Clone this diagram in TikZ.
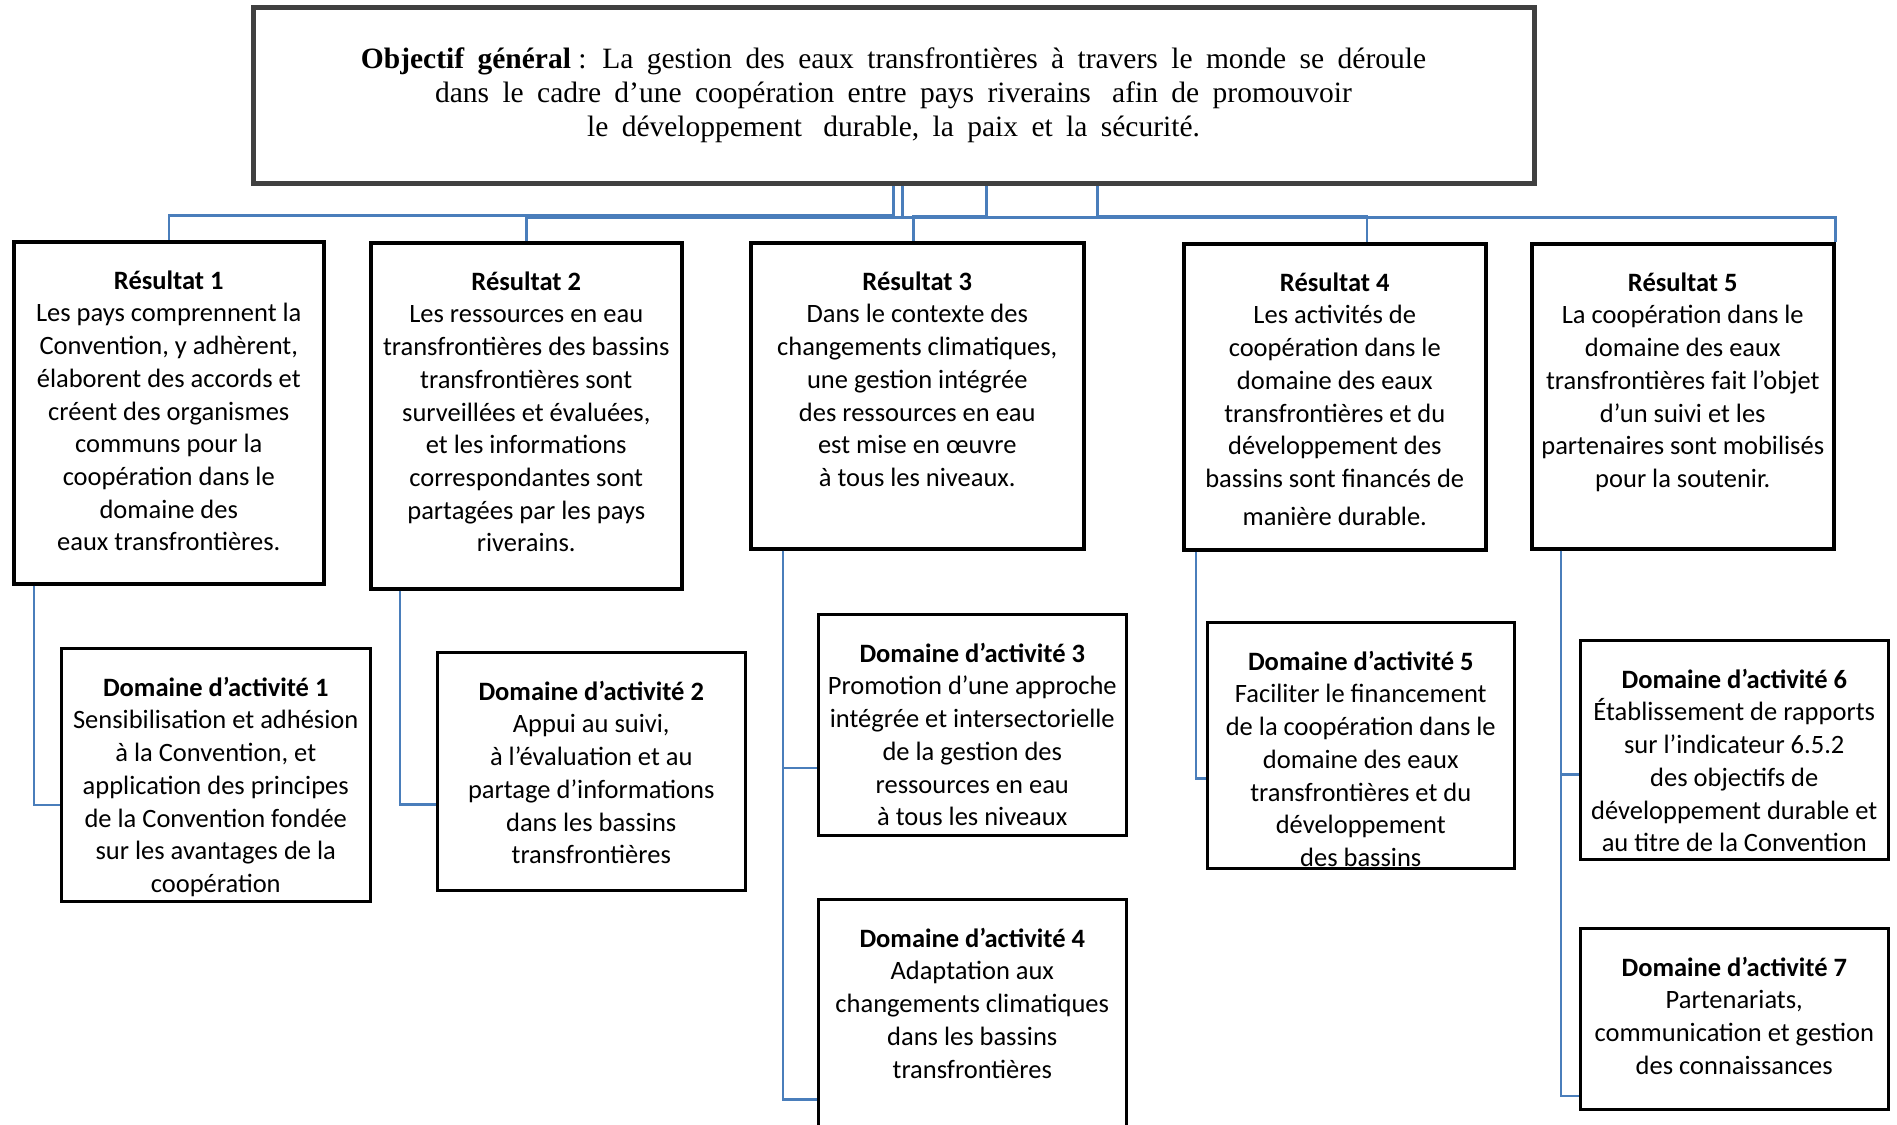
\documentclass[tikz,border=0pt]{standalone}
\usepackage{fontspec}
\setmainfont{Liberation Serif}[BoldFont={Liberation Serif Bold}]
\newfontfamily\carlito{Carlito}
\definecolor{conncol}{HTML}{4A7EBB}
\definecolor{objcol}{HTML}{404040}
\begin{document}
\begin{tikzpicture}[x=1pt,y=-1pt,
  objbox/.style={draw=objcol, line width=5pt, fill=white, inner sep=0, align=center,
    font={\fontsize{29.5}{34}\selectfont\spaceskip=13.4pt\relax}},
  rbox/.style={draw=black, line width=3.5pt, fill=white, anchor=north west, inner sep=0},
  dbox/.style={draw=black, line width=2.5pt, fill=white, anchor=north west, inner sep=0},
  btxt/.style={font=\carlito\fontsize{26.5}{32.7}\selectfont, align=center, inner sep=0, anchor=north},
  conn/.style={draw=conncol, line width=2.5pt}]
\useasboundingbox (0,0) rectangle (1897,1124);
\clip (0,0) rectangle (1897,1124);
\fill[white] (0,0) rectangle (1897,1124);

% top box
\node[objbox, minimum width=1281pt, minimum height=175pt] (obj) at (893.5,95.5)
 {\textbf{Objectif général}\hspace{-6pt} : La gestion des eaux transfrontières à travers le monde se déroule\\
  dans le cadre d’une coopération entre pays riverains\hspace{8pt} afin de promouvoir\\
  le développement\hspace{8pt} durable, la paix et la sécurité.};

% result boxes
\node[rbox, minimum width=310pt, minimum height=342pt] (r1) at (12,240) {};
\node[rbox, minimum width=311pt, minimum height=346pt] (r2) at (369,241) {};
\node[rbox, minimum width=333pt, minimum height=306pt] (r3) at (749,241) {};
\node[rbox, minimum width=302pt, minimum height=306pt] (r4) at (1182,242) {};
\node[rbox, minimum width=302pt, minimum height=305pt] (r5) at (1530,242) {};

% domain boxes
\node[dbox, minimum width=309pt, minimum height=253pt] (d1) at (60,647) {};
\node[dbox, minimum width=308pt, minimum height=238pt] (d2) at (436,651) {};
\node[dbox, minimum width=308pt, minimum height=221pt] (d3) at (817,613) {};
\node[dbox, minimum width=308pt, minimum height=262pt] (d4) at (817,898) {};
\node[dbox, minimum width=307pt, minimum height=246pt] (d5) at (1206,621) {};
\node[dbox, minimum width=308pt, minimum height=219pt] (d6) at (1579,639) {};
\node[dbox, minimum width=308pt, minimum height=181pt] (d7) at (1579,927) {};

% connectors objective -> results
\draw[conn] (obj.south) -- ++(0,30) -| (r1.north);
\draw[conn] ([xshift=9pt]obj.south) -- ++(0,32) -| (r2.north);
\draw[conn] ([xshift=93pt]obj.south) -- ++(0,31) -| ([xshift=-4pt]r3.north);
\draw[conn] ([xshift=204pt]obj.south) -- ++(0,31) -| ([xshift=32pt]r4.north);
\draw[conn] ([xshift=9pt]obj.south) -- ++(0,32) -| (r5.north east);

% connectors results -> domains
\draw[conn] ([xshift=22pt]r1.south west) |- ([yshift=-30pt]d1.west);
\draw[conn] ([xshift=31pt]r2.south west) |- ([yshift=-33pt]d2.west);
\draw[conn] ([xshift=34pt]r3.south west) |- ([yshift=-43pt]d3.west);
\draw[conn] ([xshift=34pt]r3.south west) |- ([yshift=-69pt]d4.west);
\draw[conn] ([xshift=14pt]r4.south west) |- ([yshift=-33pt]d5.west);
\draw[conn] ([xshift=31pt]r5.south west) |- ([yshift=-24.5pt]d6.west);
\draw[conn] ([xshift=31pt]r5.south west) |- ([yshift=-77pt]d7.west);

% result texts
\node[btxt] (r1t) at ([yshift=-23pt]r1.north) {\rule{0pt}{26pt}\textbf{Résultat 1}\\
 Les pays comprennent la\\ Convention, y adhèrent,\\ élaborent des accords et\\
 créent des organismes\\ communs pour la\\ coopération dans le\\ domaine des\\ eaux transfrontières.};
\node[btxt] (r2t) at ([yshift=-23pt]r2.north) {\rule{0pt}{26pt}\textbf{Résultat 2}\\
 Les ressources en eau\\ transfrontières des bassins\\ transfrontières sont\\
 surveillées et évaluées,\\ et les informations\\ correspondantes sont\\ partagées par les pays\\ riverains.};
\node[btxt] (r3t) at ([yshift=-23pt]r3.north) {\rule{0pt}{26pt}\textbf{Résultat 3}\\
 Dans le contexte des\\ changements climatiques,\\ une gestion intégrée\\
 des ressources en eau\\ est mise en œuvre\\ à tous les niveaux.};
\node[btxt] (r4t) at ([yshift=-23pt]r4.north) {\rule{0pt}{26pt}\textbf{Résultat 4}\\
 Les activités de\\ coopération dans le\\ domaine des eaux\\ transfrontières et du\\
 développement des\\ bassins sont financés de\\[5pt] manière durable.};
\node[btxt] (r5t) at ([yshift=-23pt]r5.north) {\rule{0pt}{26pt}\textbf{Résultat 5}\\
 La coopération dans le\\ domaine des eaux\\ transfrontières fait l’objet\\
 d’un suivi et les\\ partenaires sont mobilisés\\ pour la soutenir.};

% domain texts
\node[btxt] (d1t) at ([yshift=-23pt]d1.north) {\rule{0pt}{26pt}\textbf{Domaine d’activité 1}\\
 Sensibilisation et adhésion\\ à la Convention, et\\ application des principes\\
 de la Convention fondée\\ sur les avantages de la\\ coopération};
\node[btxt] (d2t) at ([yshift=-23pt]d2.north) {\rule{0pt}{26pt}\textbf{Domaine d’activité 2}\\
 Appui au suivi,\\ à l’évaluation et au\\ partage d’informations\\ dans les bassins\\ transfrontières};
\node[btxt] (d3t) at ([yshift=-23pt]d3.north) {\rule{0pt}{26pt}\textbf{Domaine d’activité 3}\\
 Promotion d’une approche\\ intégrée et intersectorielle\\ de la gestion des\\ ressources en eau\\ à tous les niveaux};
\node[btxt] (d4t) at ([yshift=-23pt]d4.north) {\rule{0pt}{26pt}\textbf{Domaine d’activité 4}\\
 Adaptation aux\\ changements climatiques\\ dans les bassins\\ transfrontières};
\node[btxt] (d5t) at ([yshift=-23pt]d5.north) {\rule{0pt}{26pt}\textbf{Domaine d’activité 5}\\
 Faciliter le financement\\ de la coopération dans le\\ domaine des eaux\\
 transfrontières et du\\ développement\\ des bassins};
\node[btxt] (d6t) at ([yshift=-23pt]d6.north) {\rule{0pt}{26pt}\textbf{Domaine d’activité 6}\\
 Établissement de rapports\\ sur l’indicateur 6.5.2\\ des objectifs de\\
 développement durable et\\ au titre de la Convention};
\node[btxt] (d7t) at ([yshift=-23pt]d7.north) {\rule{0pt}{26pt}\textbf{Domaine d’activité 7}\\
 Partenariats,\\ communication et gestion\\ des connaissances};
\end{tikzpicture}
\end{document}
